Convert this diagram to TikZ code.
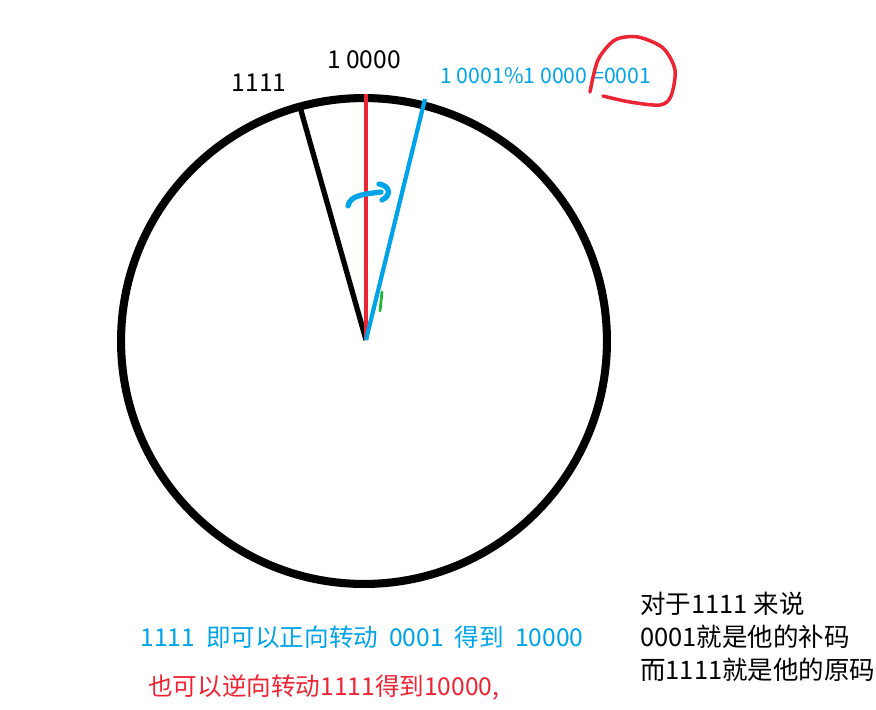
\documentclass[tikz,border=0pt]{standalone}
\usepackage{fontspec}
\setmainfont{Noto Sans CJK SC}
\usepackage{xcolor}
\usepackage{tikz}
\usetikzlibrary{calc,positioning}
\definecolor{myblue}{RGB}{0,162,232}
\definecolor{myred}{RGB}{236,36,52}
\definecolor{mygreen}{RGB}{40,180,60}
\newcommand{\gap}{\hspace{0.45em}}

\begin{document}
\begin{tikzpicture}[x=0.02cm,y=-0.02cm]
	\tikzstyle{every node} = [inner sep=0pt, font=\fontsize{14}{16}\selectfont]
	\useasboundingbox (0,0) rectangle (876,710);
% the wheel
\coordinate (c) at (364,341);
\draw[line width=4.6pt] (c) circle [radius=4.86cm];
\coordinate (0) at (366,340);
\coordinate (1) at (300,107);
\coordinate (2) at (366,94);
\coordinate (3) at (425,99);
	\path[draw, line width=3pt] (0) -- (1);
	\path[draw, myred, line width=2.8pt] (0) -- (2);
	\path[draw, myblue, line width=2.4pt] (0) -- (3);
% labels on the rim
\node (4) at (259,83) {1111};
\node (5) at (364,60) {1 0000};
\node[anchor=west, myblue, font=\fontsize{12.1}{14}\selectfont] (6) at (440,76) {1 0001\%1 0000 =0001};
% hand marks
	\draw[myblue, line width=3pt, line cap=round] (348,206) .. controls (350,195) and (365,194) .. (381,192);
	\draw[myblue, line width=3pt, line cap=round] (379,184) .. controls (391,186) and (391,196) .. (382,200);
	\draw[mygreen, line width=1.6pt, line cap=round] (382,292) -- (380,311);
	\draw[myred, line width=2pt, line cap=round] plot[smooth] coordinates {(590,92) (598,60) (615,40) (638,37) (663,48) (675,70) (671,96) (660,105) (630,102) (603,96)};
% notes
\node[anchor=west, myblue] (7) at (140,637) {1111\gap 即可以正向转动\gap 0001\gap 得到\gap 10000};
\node[anchor=west, myred] (8) at (148,687) {也可以逆向转动1111得到10000,};
\node[anchor=north west, align=left, font=\fontsize{14.5}{18.7}\selectfont] (9) at (640,592) {对于1111 来说\\0001就是他的补码\\而1111就是他的原码};
\end{tikzpicture}
\end{document}
